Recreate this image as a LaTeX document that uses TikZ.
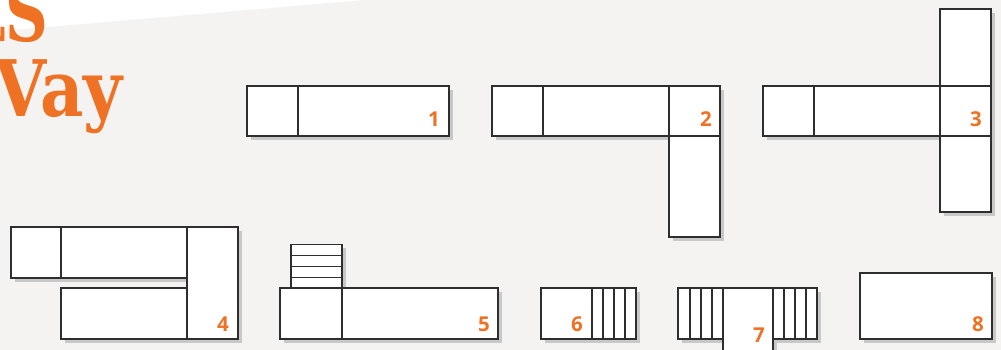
\documentclass[tikz,border=0pt]{standalone}
\usepackage{fontspec}
\newfontfamily\titlefont{DejaVu Serif}
\newfontfamily\numfont{Open Sans}
\definecolor{bggrey}{HTML}{F4F3F1}
\definecolor{shadowgrey}{HTML}{C8C8C8}
\definecolor{edge}{HTML}{2E2E2E}
\definecolor{brand}{HTML}{EF7124}
\pgfdeclarelayer{bglayer}
\pgfdeclarelayer{shadowlayer}
\pgfsetlayers{bglayer,shadowlayer,main}
\tikzset{
  cushionbox/.style={fill=white, draw=edge, line width=1.3pt, line join=miter},
  cushionshadow/.style={fill=shadowgrey},
  numlabel/.style={anchor=base, inner sep=0pt, text=brand, font=\numfont\bfseries\fontsize{20.5}{21}\selectfont},
  titletext/.style={anchor=base west, inner sep=0pt, text=brand, font=\titlefont\bfseries\fontsize{78}{78}\selectfont}
}
\newcommand\cushion[4]{%
  \begin{pgfonlayer}{shadowlayer}
    \path[cushionshadow] ($(#1,#2)+(4,4)$) rectangle ($(#3,#4)+(4,4)$);
  \end{pgfonlayer}
  \draw[cushionbox] (#1,#2) rectangle (#3,#4);
}
\usetikzlibrary{calc}
\begin{document}
\begin{tikzpicture}[x=1pt,y=-1pt]
\useasboundingbox (0,0) rectangle (1001,350);
\clip (0,0) rectangle (1001,350);
\begin{pgfonlayer}{bglayer}
  \fill[bggrey] (0,0) rectangle (1001,350);
  \fill[white] (0,0) -- (364,0) -- (0,31) -- cycle;
\end{pgfonlayer}
% title
\node[titletext] (titleA) at (-36,42) {\scalebox{0.76}[1]{LS}};
\node[titletext] (titleB) at (-6,117) {\scalebox{0.86}[1]{Vay}};
% 1
\cushion{247}{86}{298}{136}
\cushion{298}{86}{449}{136}
\node[numlabel] (n1) at (434,127) {1};
% 2
\cushion{492}{86}{543}{136}
\cushion{543}{86}{669}{136}
\cushion{669}{86}{720}{136}
\cushion{669}{136}{720}{237}
\node[numlabel] (n2) at (706,127) {2};
% 3
\cushion{763}{86}{814}{136}
\cushion{814}{86}{940}{136}
\cushion{940}{9}{991}{86}
\cushion{940}{86}{991}{136}
\cushion{940}{136}{991}{212}
\node[numlabel] (n3) at (976,127) {3};
% 4
\cushion{11}{227}{61}{278}
\cushion{61}{227}{187}{278}
\cushion{61}{288}{187}{339}
\cushion{187}{227}{238}{339}
\node[numlabel] (n4) at (223,331) {4};
% 5
\cushion{291}{244.3}{342}{255.3}
\cushion{291}{255.3}{342}{266.3}
\cushion{291}{266.3}{342}{277.5}
\cushion{291}{277.5}{342}{288.5}
\cushion{280}{288}{342}{339}
\cushion{342}{288}{498}{339}
\node[numlabel] (n5) at (484,331) {5};
% 6
\cushion{541}{288}{592}{339}
\cushion{592}{288}{603}{339}
\cushion{603}{288}{614}{339}
\cushion{614}{288}{625}{339}
\cushion{625}{288}{636}{339}
\node[numlabel] (n6) at (577,331) {6};
% 7
\cushion{678}{288}{690}{339}
\cushion{690}{288}{701}{339}
\cushion{701}{288}{712}{339}
\cushion{712}{288}{723}{339}
\cushion{773}{288}{784}{339}
\cushion{784}{288}{795}{339}
\cushion{795}{288}{806}{339}
\cushion{806}{288}{817}{339}
\cushion{723}{288}{773}{352}
\node[numlabel] (n7) at (759,342) {7};
% 8
\cushion{860}{273}{992}{339}
\node[numlabel] (n8) at (978,331) {8};
\end{tikzpicture}
\end{document}
